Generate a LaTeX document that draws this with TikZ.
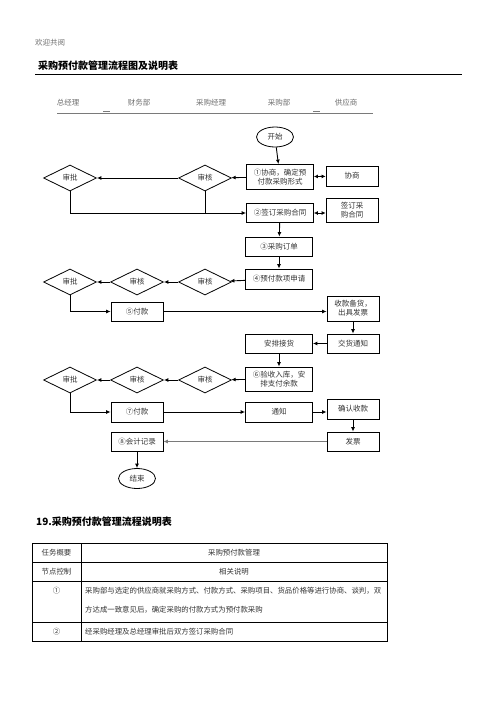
\documentclass[tikz,border=0pt]{standalone}
\usepackage{fontspec}
\setmainfont{Noto Sans CJK SC}
\usepackage{tikz}
\usepackage{xcolor}
\usetikzlibrary{arrows.meta, positioning, shapes.geometric}
\definecolor{inkgray}{HTML}{333333}
\definecolor{softgray}{HTML}{6E6E6E}
\definecolor{rulegray}{HTML}{7A7A7A}

\begin{document}
\begin{tikzpicture}[x=1pt, y=-1pt,
    box/.style={draw, line width=0.8pt, minimum width=67pt, minimum height=19pt, inner sep=1pt, align=center, font=\fontsize{7.5}{9}\selectfont, text=inkgray},
    sbox/.style={box, minimum width=52pt},
    chk/.style={diamond, draw, line width=0.8pt, minimum width=53pt, minimum height=26pt, inner sep=0pt, font=\fontsize{7.5}{9}\selectfont, text=inkgray},
    term/.style={ellipse, draw, line width=0.8pt, minimum width=37pt, minimum height=20pt, inner sep=0pt, font=\fontsize{7.5}{9}\selectfont, text=inkgray},
    flow/.style={line width=0.9pt, -{Latex[length=4.5pt,width=4pt]}},
    both/.style={line width=0.9pt, {Latex[length=4pt,width=4pt]}-{Latex[length=4pt,width=4pt]}},
    lane/.style={font=\fontsize{7.5}{9}\selectfont, text=softgray},
    cell/.style={font=\fontsize{7.4}{9}\selectfont, text=inkgray, inner sep=0pt},
    heading/.style={font=\fontsize{10}{12}\selectfont\bfseries, inner sep=0pt, anchor=west}]
    \useasboundingbox (0,0) rectangle (496,702);

    \node[lane, anchor=west, inner sep=0pt] (welcome) at (35,43) {欢迎共阅};
    \node[heading] (title) at (38,66) {采购预付款管理流程图及说明表};
    \draw[line width=0.9pt] (35,74) -- (462,74);

    \node[lane] (gm) at (68,103) {总经理};
    \node[lane] (fin) at (139,103) {财务部};
    \node[lane] (pm) at (211,103) {采购经理};
    \node[lane] (pd) at (279,103) {采购部};
    \node[lane] (sup) at (346,103) {供应商};
    \draw[rulegray, line width=0.6pt] (57,113) -- (373,113);
    \draw[rulegray, line width=1.2pt] (103,111.5) -- (110,111.5);
    \draw[rulegray, line width=1.2pt] (313,111.5) -- (320,111.5);

    \node[term] (start) at (275,137) {开始};
    \node[box, minimum height=25pt] (c1) at (280,177) {①协商，确定预\\付款采购形式};
    \node[sbox, minimum height=20pt] (s1) at (352,176) {协商};
    \node[box] (c2) at (280,213) {②签订采购合同};
    \node[sbox, minimum height=24pt] (s2) at (352,210) {签订采\\购合同};
    \node[box] (c3) at (279,246.5) {③采购订单};
    \node[box, minimum height=20pt] (c4) at (279,279) {④预付款项申请};
    \node[sbox, minimum height=25pt] (s3) at (353,308.5) {收款备货，\\出具发票};
    \node[sbox] (s4) at (353,343.5) {交货通知};
    \node[box] (recv) at (279,343.5) {安排接货};
    \node[box, minimum height=24pt] (c6) at (279,379) {⑥验收入库，安\\排支付余款};
    \node[box, minimum height=20pt] (note) at (279,412) {通知};
    \node[sbox, minimum height=20pt] (s5) at (353,409) {确认收款};
    \node[sbox] (s6) at (353,441.5) {发票};

    \node[chk] (sp1) at (70,178) {审批};
    \node[chk] (sh1) at (205,178) {审核};
    \node[chk] (sp2) at (70,282) {审批};
    \node[chk] (sf2) at (137,282) {审核};
    \node[chk] (sh2) at (205,282) {审核};
    \node[sbox] (pay5) at (137,311.5) {⑤付款};
    \node[chk] (sp3) at (70,380) {审批};
    \node[chk] (sf3) at (137,380) {审核};
    \node[chk] (sh3) at (205,380) {审核};
    \node[sbox, minimum height=20pt] (pay7) at (137,412) {⑦付款};
    \node[sbox] (c8) at (137,441.5) {⑧会计记录};
    \node[term] (stop) at (137,478.5) {结束};

    \draw[flow] (start) -- (c1);
    \draw[both] (c1) -- (s1);
    \draw[flow] (c1) -- (sh1);
    \draw[flow] (sh1) -- (sp1);
    \draw[flow] (sp1.south) |- (c2.west);
    \draw[line width=0.9pt] (sh1.south) -- (sh1.south |- c2.west);
    \draw[both] (c2.east) -- (c2.east -| s2.west);
    \draw[flow] (c2) -- (c3);
    \draw[flow] (c3) -- (c4);
    \draw[flow] (c4) -- (sh2);
    \draw[flow] (sh2) -- (sf2);
    \draw[flow] (sf2) -- (sp2);
    \draw[flow] (sp2.south) |- (pay5.west);
    \draw[flow] (pay5.east) -- (pay5.east -| s3.west);
    \draw[flow] (s3) -- (s4);
    \draw[flow] (s4) -- (recv);
    \draw[flow] (recv) -- (c6);
    \draw[flow] (c6) -- (sh3);
    \draw[flow] (sh3) -- (sf3);
    \draw[flow] (sf3) -- (sp3);
    \draw[flow] (sp3.south) |- (pay7.west);
    \draw[flow] (pay7) -- (note);
    \draw[flow] (note.east) -- (note.east -| s5.west);
    \draw[flow] (s5) -- (s6);
    \draw[flow, rulegray, line width=1.2pt] (s6) -- (c8);
    \draw[flow] (c8) -- (stop);

    \node[heading] (tabtitle) at (36,522) {19.采购预付款管理流程说明表};
    \draw[line width=0.8pt] (32,543) rectangle (387,641);
    \draw[line width=0.8pt] (81,543) -- (81,641);
    \foreach \ry in {562,581,622}
        \draw[line width=0.8pt] (32,\ry) -- (387,\ry);
    \node[cell] (t1a) at (56.5,552.5) {任务概要};
    \node[cell] (t1b) at (234,552.5) {采购预付款管理};
    \node[cell] (t2a) at (56.5,571.5) {节点控制};
    \node[cell] (t2b) at (234,571.5) {相关说明};
    \node[cell] (t3a) at (56.5,591) {①};
    \node[cell, anchor=west] (t3b) at (85,591) {采购部与选定的供应商就采购方式、付款方式、采购项目、货品价格等进行协商、谈判，双};
    \node[cell, anchor=west] (t3c) at (85,609.5) {方达成一致意见后，确定采购的付款方式为预付款采购};
    \node[cell] (t4a) at (56.5,631.5) {②};
    \node[cell, anchor=west] (t4b) at (85,631.5) {经采购经理及总经理审批后双方签订采购合同};
\end{tikzpicture}
\end{document}
